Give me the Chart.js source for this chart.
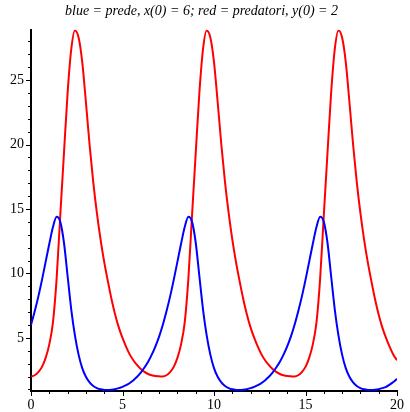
<!DOCTYPE html>
<html>
<head>
<meta charset="utf-8">
<script src="https://cdn.jsdelivr.net/npm/chart.js@4"></script>
<style>
    body { margin: 0; background: #fff; }
    canvas { display: block; }
</style>
</head>
<body>
<canvas id="lvChart" width="410" height="412"></canvas>
<script>
// time (x axis), read every 0.2
const times = [
    0.0, 0.2, 0.4, 0.6, 0.8, 1.0, 1.2, 1.4, 1.6, 1.8, 2.0, 2.2, 2.4, 2.6, 2.8, 3.0, 3.2, 3.4, 3.6, 3.8,
    4.0, 4.2, 4.4, 4.6, 4.8, 5.0, 5.2, 5.4, 5.6, 5.8, 6.0, 6.2, 6.4, 6.6, 6.8, 7.0, 7.2, 7.4, 7.6, 7.8,
    8.0, 8.2, 8.4, 8.6, 8.8, 9.0, 9.2, 9.4, 9.6, 9.8, 10.0, 10.2, 10.4, 10.6, 10.8, 11.0, 11.2, 11.4, 11.6, 11.8,
    12.0, 12.2, 12.4, 12.6, 12.8, 13.0, 13.2, 13.4, 13.6, 13.8, 14.0, 14.2, 14.4, 14.6, 14.8, 15.0, 15.2, 15.4, 15.6, 15.8,
    16.0, 16.2, 16.4, 16.6, 16.8, 17.0, 17.2, 17.4, 17.6, 17.8, 18.0, 18.2, 18.4, 18.6, 18.8, 19.0, 19.2, 19.4, 19.6, 19.8,
    20.0
];

// blue = prede
const prey = [
    6.0, 7.05, 8.2, 9.5, 10.9, 12.3, 13.6, 14.4, 14.0, 12.4, 9.8, 7.2, 5.2, 3.7, 2.65, 1.98, 1.55, 1.27, 1.11, 1.01,
    0.96, 0.95, 0.97, 1.02, 1.1, 1.2, 1.33, 1.5, 1.72, 1.98, 2.3, 2.7, 3.15, 3.7, 4.35, 5.1, 6.0, 7.05, 8.2, 9.5,
    10.9, 12.3, 13.6, 14.4, 14.0, 12.4, 9.8, 7.2, 5.2, 3.7, 2.65, 1.98, 1.55, 1.27, 1.11, 1.01, 0.96, 0.95, 0.97, 1.02,
    1.1, 1.2, 1.33, 1.5, 1.72, 1.98, 2.3, 2.7, 3.15, 3.7, 4.35, 5.1, 6.0, 7.05, 8.2, 9.5, 10.9, 12.3, 13.6, 14.4,
    14.0, 12.4, 9.8, 7.2, 5.2, 3.7, 2.65, 1.98, 1.55, 1.27, 1.11, 1.01, 0.96, 0.95, 0.97, 1.02, 1.1, 1.2, 1.38, 1.58,
    1.82
];

// red = predatori
const predators = [
    2.0, 2.1, 2.35, 2.75, 3.45, 4.5, 6.2, 9.6, 14.5, 19.3, 24.0, 27.4, 28.85, 28.3, 26.4, 23.3, 20.0, 17.1, 14.7, 12.65,
    10.9, 9.4, 8.0, 6.8, 5.8, 5.0, 4.3, 3.7, 3.25, 2.88, 2.58, 2.36, 2.2, 2.1, 2.04, 2.02, 2.0, 2.1, 2.35, 2.75,
    3.45, 4.5, 6.2, 9.6, 14.5, 19.3, 24.0, 27.4, 28.85, 28.3, 26.4, 23.3, 20.0, 17.1, 14.7, 12.65, 10.9, 9.4, 8.0, 6.8,
    5.8, 5.0, 4.3, 3.7, 3.25, 2.88, 2.58, 2.36, 2.2, 2.1, 2.04, 2.02, 2.0, 2.1, 2.35, 2.75, 3.45, 4.5, 6.2, 9.6,
    14.5, 19.3, 24.0, 27.4, 28.85, 28.3, 26.4, 23.3, 20.0, 17.1, 14.7, 12.65, 10.9, 9.4, 8.0, 6.8, 5.8, 5.0, 4.3, 3.7,
    3.27
];

const xTickValues = [0, 1, 2, 3, 4, 5, 6, 7, 8, 9, 10, 11, 12, 13, 14, 15, 16, 17, 18, 19, 20];
const yTickValues = [1, 2, 3, 4, 5, 6, 7, 8, 9, 10, 11, 12, 13, 14, 15, 16, 17, 18, 19, 20, 21, 22, 23, 24, 25, 26, 27, 28];
const xLabelled = [0, 5, 10, 15, 20];
const yLabelled = [5, 10, 15, 20, 25];
const titleText = "blue = prede, x(0) = 6; red = predatori, y(0) = 2";

const serif = "'Liberation Serif', 'DejaVu Serif', serif";

// draws the outward tick marks, long on labelled values, short otherwise
const tickMarks = {
    id: "tickMarks",
    afterDraw(chart) {
        const ctx = chart.ctx;
        const xs = chart.scales.x;
        const ys = chart.scales.y;
        ctx.save();
        ctx.strokeStyle = "#000";
        ctx.lineWidth = 1;
        xs.ticks.forEach(t => {
            const px = Math.round(xs.getPixelForValue(t.value)) + 0.5;
            const len = xLabelled.includes(t.value) ? 5 : 3;
            ctx.beginPath();
            ctx.moveTo(px, ys.bottom);
            ctx.lineTo(px, ys.bottom + len);
            ctx.stroke();
        });
        ys.ticks.forEach(t => {
            const py = Math.round(ys.getPixelForValue(t.value)) + 0.5;
            const len = yLabelled.includes(t.value) ? 5 : 3;
            ctx.beginPath();
            ctx.moveTo(xs.left - len, py);
            ctx.lineTo(xs.left, py);
            ctx.stroke();
        });
        ctx.restore();
    }
};

new Chart(document.getElementById("lvChart").getContext("2d"), {
    type: "line",
    data: {
        datasets: [
            {
                label: "prede",
                data: times.map((t, i) => ({ x: t, y: prey[i] })),
                borderColor: "#0000ff",
                borderWidth: 2,
                pointRadius: 0,
                cubicInterpolationMode: "monotone",
                fill: false
            },
            {
                label: "predatori",
                data: times.map((t, i) => ({ x: t, y: predators[i] })),
                borderColor: "#ff0000",
                borderWidth: 2,
                pointRadius: 0,
                cubicInterpolationMode: "monotone",
                fill: false
            }
        ]
    },
    options: {
        responsive: false,
        animation: false,
        layout: { padding: { top: 0, right: 7, bottom: 0, left: 0 } },
        plugins: {
            legend: { display: false },
            tooltip: { enabled: false },
            title: {
                display: true,
                text: titleText,
                color: "#000",
                font: { family: serif, size: 14, style: "italic", weight: "normal" },
                padding: { top: 3, bottom: 10 }
            }
        },
        scales: {
            x: {
                type: "linear",
                min: 0,
                max: 20,
                afterBuildTicks: s => { s.ticks = xTickValues.map(v => ({ value: v })); },
                afterFit: s => { s.height = 21; },
                grid: { display: false, drawTicks: false },
                border: { display: true, color: "#000", width: 2 },
                ticks: {
                    autoSkip: false,
                    maxRotation: 0,
                    padding: 6,
                    color: "#000",
                    font: { family: serif, size: 14 },
                    callback: v => xLabelled.includes(v) ? String(v) : ""
                }
            },
            y: {
                type: "linear",
                min: 0.88,
                max: 28.9,
                afterBuildTicks: s => { s.ticks = yTickValues.map(v => ({ value: v })); },
                afterFit: s => { s.width = 31; },
                grid: { display: false, drawTicks: false },
                border: { display: true, color: "#000", width: 2 },
                ticks: {
                    autoSkip: false,
                    padding: 7,
                    color: "#000",
                    font: { family: serif, size: 14 },
                    callback: v => yLabelled.includes(v) ? String(v) : ""
                }
            }
        }
    },
    plugins: [tickMarks]
});
</script>
</body>
</html>
